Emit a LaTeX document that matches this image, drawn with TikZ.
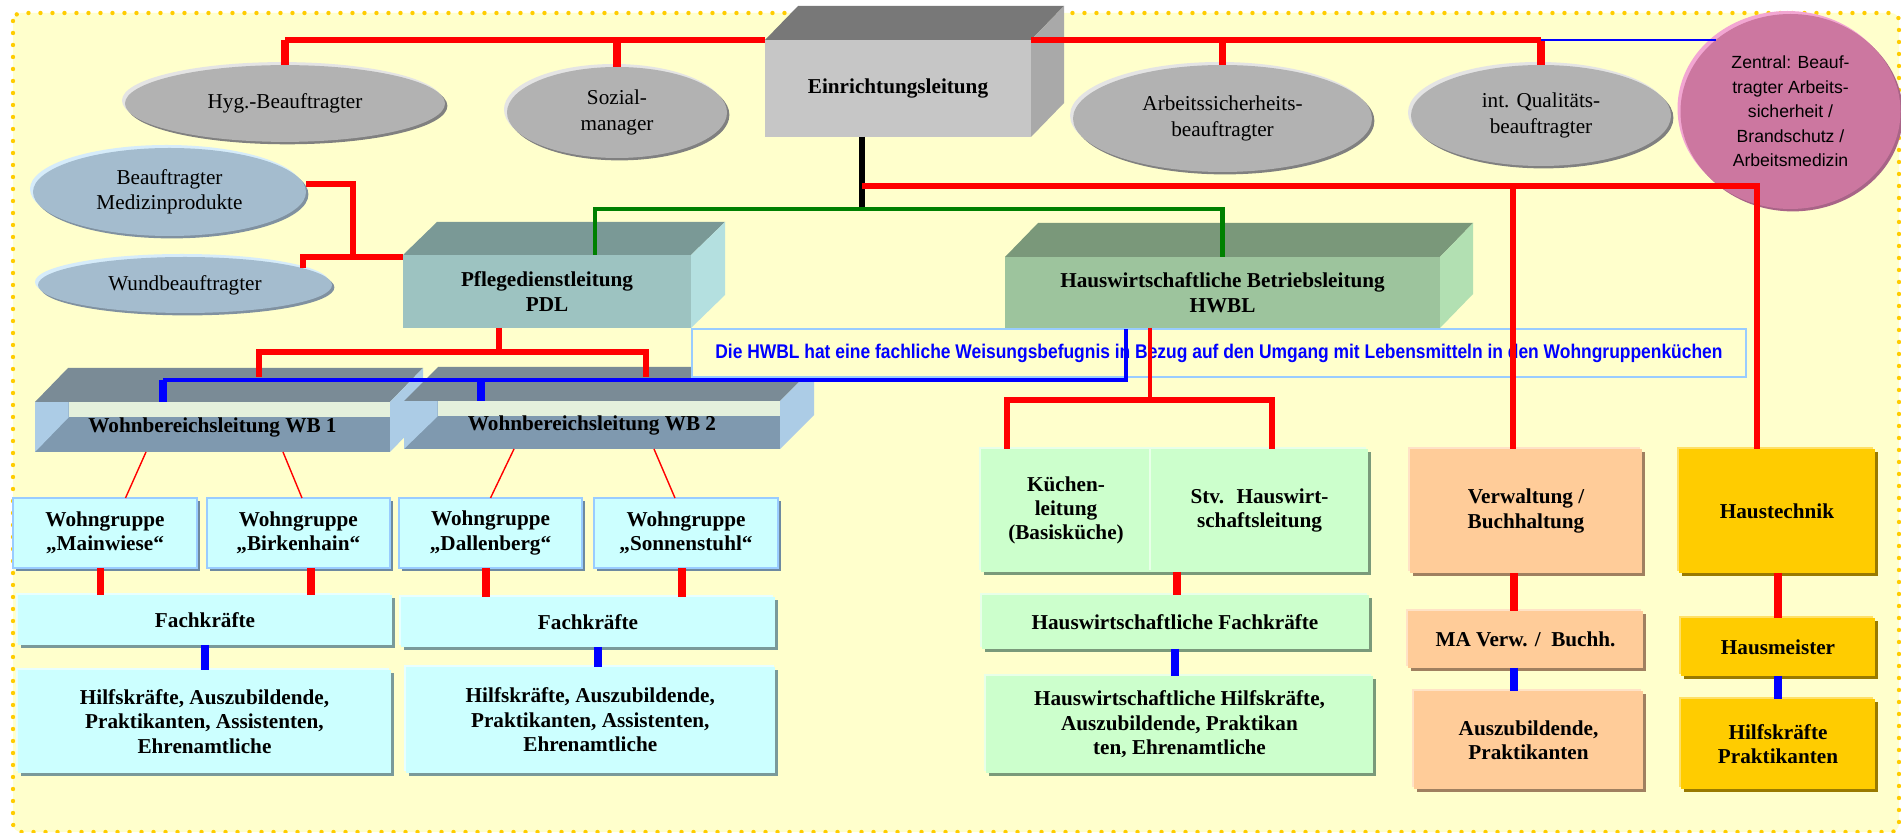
\documentclass[tikz,border=0pt]{standalone}
\usepackage{fontspec}
\setmainfont{Liberation Serif}
\newfontfamily\infofont[FakeStretch=0.88]{Liberation Sans}
\newfontfamily\zentralfont{Liberation Sans}
\usetikzlibrary{shapes.geometric,shadows}

\definecolor{bgyellow}{HTML}{FFFFCC}
\definecolor{dotgold}{HTML}{FFCC00}
\definecolor{einrfront}{HTML}{C6C6C6}
\definecolor{einrtop}{HTML}{787878}
\definecolor{einrside}{HTML}{A9A9A9}
\definecolor{pdlfront}{HTML}{9DC3C1}
\definecolor{pdltop}{HTML}{7A9996}
\definecolor{pdlside}{HTML}{B4E0E0}
\definecolor{hwfront}{HTML}{9DC49D}
\definecolor{hwtop}{HTML}{7A987A}
\definecolor{hwside}{HTML}{B2E0B2}
\definecolor{wbtop}{HTML}{7A8B96}
\definecolor{wbdark}{HTML}{7F99AF}
\definecolor{wbband}{HTML}{E4F0DC}
\definecolor{wbpale}{HTML}{ACCCE6}
\definecolor{greyfill}{HTML}{B2B2B2}
\definecolor{greyhi}{HTML}{E4E4E4}
\definecolor{greydark}{HTML}{808080}
\definecolor{bluefill}{HTML}{A4BCCE}
\definecolor{bluehi}{HTML}{D6ECFA}
\definecolor{bluedark}{HTML}{8091A0}
\definecolor{pinkfill}{HTML}{CC77A0}
\definecolor{pinkhi}{HTML}{F2A6D2}
\definecolor{pinkdark}{HTML}{A86487}
\definecolor{cyanfill}{HTML}{CCFFFF}
\definecolor{cyanhi}{HTML}{E8FFFF}
\definecolor{cyandark}{HTML}{7A9A9A}
\definecolor{wgborder}{HTML}{99CCFF}
\definecolor{wgdark}{HTML}{6E8AA0}
\definecolor{greenfill}{HTML}{CCFFCC}
\definecolor{greenhi}{HTML}{E8FFE8}
\definecolor{greendark}{HTML}{7A9A7A}
\definecolor{orangefill}{HTML}{FFCC99}
\definecolor{orangehi}{HTML}{FFE2C6}
\definecolor{orangedark}{HTML}{A08060}
\definecolor{goldfill}{HTML}{FFCC00}
\definecolor{goldhi}{HTML}{FFE066}
\definecolor{golddark}{HTML}{997A00}
\definecolor{linered}{HTML}{FF0000}
\definecolor{linegreen}{HTML}{008000}
\definecolor{lineblue}{HTML}{0000FF}

\tikzset{
  front/.style={rectangle, inner sep=0pt, outer sep=0pt, align=center,
    font=\bfseries\fontsize{10.6}{12.4}\selectfont},
  bx/.style={front, font=\bfseries\fontsize{10.6}{12.2}\selectfont},
  ell/.style={ellipse, inner sep=0pt, outer sep=0pt, align=center,
    font=\fontsize{10.6}{12.6}\selectfont},
  greyell/.style={ell, fill=greyfill,
    general shadow={shadow xshift=-1.5pt, shadow yshift=1.5pt, fill=greyhi},
    general shadow={shadow xshift=1.2pt, shadow yshift=-1.2pt, fill=greydark}},
  blueell/.style={ell, fill=bluefill,
    general shadow={shadow xshift=-1.5pt, shadow yshift=1.5pt, fill=bluehi},
    general shadow={shadow xshift=1.2pt, shadow yshift=-1.2pt, fill=bluedark}},
  pinkell/.style={ell, fill=pinkfill, font=\zentralfont\fontsize{8.8}{12.3}\selectfont,
    general shadow={shadow xshift=-1.5pt, shadow yshift=1.5pt, fill=pinkhi},
    general shadow={shadow xshift=1.2pt, shadow yshift=-1.2pt, fill=pinkdark}},
  shadowbox/.style n args={3}{bx, fill=#1,
    general shadow={shadow xshift=-0.8pt, shadow yshift=0.8pt, fill=#2},
    drop shadow={shadow xshift=1.5pt, shadow yshift=-1.5pt, opacity=1, fill=#3}},
  cyanbox/.style={shadowbox={cyanfill}{cyanhi}{cyandark}},
  wgbox/.style={bx, fill=cyanfill, draw=wgborder, line width=1pt,
    drop shadow={shadow xshift=1.5pt, shadow yshift=-1.5pt, opacity=1, fill=wgdark}},
  greenbox/.style={shadowbox={greenfill}{greenhi}{greendark}},
  orangebox/.style={shadowbox={orangefill}{orangehi}{orangedark}},
  goldbox/.style={shadowbox={goldfill}{goldhi}{golddark}},
  wbfront/.style={front, fill=wbdark, path picture={
      \fill[wbband] ([xshift=16.8pt]path picture bounding box.north west)
        rectangle ([yshift=-7.7pt]path picture bounding box.north east);
      \fill[wbpale] (path picture bounding box.north west) -- ++(16.8pt,0)
        -- ++(0,-7.7pt) -- (path picture bounding box.south west) -- cycle;}},
  infobox/.style={rectangle, draw=wgborder, line width=1pt, fill=bgyellow,
    inner sep=0pt, outer sep=0pt, text=lineblue,
    font=\infofont\bfseries\fontsize{9.9}{11}\selectfont},
  redline/.style={draw=linered, line width=2.8pt},
  redstub/.style={draw=linered, line width=3.7pt},
  redtrunk/.style={draw=linered, line width=3.2pt},
  redmid/.style={draw=linered, line width=2pt},
  redthin/.style={draw=linered, line width=0.7pt},
  greenline/.style={draw=linegreen, line width=2.3pt},
  blackline/.style={draw=black, line width=2.8pt},
  bluethin/.style={draw=lineblue, line width=1pt},
  blueline/.style={draw=lineblue, line width=1.7pt},
  bluestub/.style={draw=lineblue, line width=3.8pt},
  dotborder/.style={draw=dotgold, line width=2.2pt, line cap=round,
    dash pattern=on 0pt off 6pt, rounded corners=4pt}
}

\begin{document}
\begin{tikzpicture}[x=0.5pt, y=-0.5pt]

  % top and side faces of a box, #1 front node, #2/#3 depth, #4 top, #5 side
  \newcommand\cubefaces[5]{%
    \fill[#4] (#1.north west) -- ++(#2,-#3) -- ([shift={(#2,-#3)}]#1.north east)
      -- (#1.north east) -- cycle;
    \fill[#5] (#1.north east) -- ++(#2,-#3) -- ([shift={(#2,-#3)}]#1.south east)
      -- (#1.south east) -- cycle;}

  \useasboundingbox (0,0) rectangle (1901,833);
  \fill[bgyellow, rounded corners=4pt] (13,13) rectangle (1899,832);
  \draw[dotborder] (13,13) rectangle (1899,832);

  % Einrichtungsleitung and staff positions
  \node[front, fill=einrfront, minimum width=133pt, minimum height=48.5pt] (einr) at (898,88.5) {Einrichtungsleitung};
  \cubefaces{einr}{33}{34}{einrtop}{einrside}

  \node[greyell, minimum width=160pt, minimum height=38.4pt] (hyg) at (285,103.5) {Hyg.-Beauftragter};
  \node[greyell, minimum width=110pt, minimum height=45.5pt] (sozial) at (617,112.5) {Sozial-\\manager};
  \node[greyell, minimum width=149.5pt, minimum height=53.5pt] (arbeit) at (1222.5,118.5) {Arbeitssicherheits-\\beauftragter};
  \node[greyell, minimum width=130pt, minimum height=50.5pt] (quali) at (1541,115.5) {int. Qualitäts-\\beauftragter};
  \node[pinkell, minimum width=110pt, minimum height=97.5pt] (zentral) at (1790.5,111.5) {Zentral: Beauf-\\tragter Arbeits-\\sicherheit /\\Brandschutz /\\Arbeitsmedizin};
  \node[blueell, minimum width=136.5pt, minimum height=44pt] (medizin) at (169.5,192) {Beauftragter\\Medizinprodukte};
  \node[blueell, minimum width=147pt, minimum height=28pt] (wund) at (185,285) {Wundbeauftragter};

  \draw[redline] (einr.north west) -- (hyg.north |- einr.north);
  \draw[redstub] (hyg.north) -- (hyg.north |- einr.north);
  \draw[redstub] (sozial.north) -- (sozial.north |- einr.north);
  \draw[redline] (einr.north east) -- (quali.north |- einr.north);
  \draw[redstub] (arbeit.north) -- (arbeit.north |- einr.north);
  \draw[redstub] (quali.north) -- (quali.north |- einr.north);
  \draw[bluethin] (quali.north |- einr.north) -- (zentral.136 |- einr.north);

  % PDL and HWBL
  \node[front, fill=pdlfront, minimum width=144pt, minimum height=36.5pt] (pdl) at (547,291.5) {Pflegedienstleitung\\PDL};
  \cubefaces{pdl}{34}{33}{pdltop}{pdlside}
  \node[front, fill=hwfront, minimum width=217.5pt, minimum height=35.5pt] (hwbl) at (1222.5,292.5) {Hauswirtschaftliche Betriebsleitung\\HWBL};
  \cubefaces{hwbl}{33}{34}{hwtop}{hwside}

  \coordinate (mjoin) at (353,257);
  \draw[redline] ([yshift=4pt]medizin.east) -| (mjoin) -- (mjoin -| pdl.west);
  \draw[redline] (wund.8) |- (mjoin);

  \coordinate (hub) at (862,209);
  \coordinate (trunk) at (862,186);
  \draw[blackline] (einr.south -| hub) -- (hub);
  \draw[greenline] (pdl.north -| 595,0) |- (hub) -| (hwbl.north);

  % Wohnbereiche
  \node[wbfront, minimum width=177.5pt, minimum height=25pt] (wb1) at (212.5,427) {Wohnbereichsleitung WB 1};
  \cubefaces{wb1}{33}{34}{wbtop}{wbpale}
  \node[wbfront, minimum width=188pt, minimum height=24pt] (wb2) at (592,425) {Wohnbereichsleitung WB 2};
  \cubefaces{wb2}{34}{34}{wbtop}{wbpale}

  \coordinate (pjoin) at (499,352);
  \coordinate (wb1red) at (259,377);
  \coordinate (wb2red) at (646,377);
  \draw[redline] (pdl.south -| pjoin) -- (pjoin);
  \draw[redline] (wb1red) |- (pjoin) -| (wb2red);

  \node[infobox, minimum width=527pt, minimum height=24pt] (info) at (1218.9,353) {Die HWBL hat eine fachliche Weisungsbefugnis in Bezug auf den Umgang mit Lebensmitteln in den Wohngruppenküchen};

  \coordinate (bjoin) at (163,380);
  \draw[bluestub] (wb1.north -| bjoin) -- (bjoin);
  \draw[bluestub] (wb2.north -| 481,0) -- (bjoin -| 481,0);
  \draw[blueline] (bjoin) -| (info.north -| 1126,0);

  \node[wgbox, minimum width=92pt, minimum height=35pt] (wgA) at (105,533) {Wohngruppe\\„Mainwiese“};
  \node[wgbox, minimum width=91.7pt, minimum height=35pt] (wgB) at (298.3,533) {Wohngruppe\\„Birkenhain“};
  \node[wgbox, minimum width=91.5pt, minimum height=35pt] (wgC) at (490.5,533) {Wohngruppe\\„Dallenberg“};
  \node[wgbox, minimum width=92pt, minimum height=35pt] (wgD) at (686,533) {Wohngruppe\\„Sonnenstuhl“};

  \draw[redthin] (wb1.south -| 146,0) -- (wgA.north -| 125.5,0);
  \draw[redthin] (wb1.south -| 283,0) -- (wgB.north -| 302,0);
  \draw[redthin] (wb2.south -| 514,0) -- (wgC.north -| 490.5,0);
  \draw[redthin] (wb2.south -| 654,0) -- (wgD.north -| 675,0);

  \node[cyanbox, minimum width=187pt, minimum height=25pt] (fachL) at (205,620) {Fachkräfte};
  \node[cyanbox, minimum width=187pt, minimum height=25pt] (fachR) at (588,622) {Fachkräfte};
  \node[cyanbox, minimum width=186.5pt, minimum height=51.5pt] (hilfL) at (204.5,721.5) {Hilfskräfte, Auszubildende,\\Praktikanten, Assistenten,\\Ehrenamtliche};
  \node[cyanbox, minimum width=184.8pt, minimum height=53pt] (hilfR) at (590.3,720) {Hilfskräfte, Auszubildende,\\Praktikanten, Assistenten,\\Ehrenamtliche};

  \draw[redstub] (wgA.south -| 100.5,0) -- (fachL.north -| 100.5,0);
  \draw[redstub] (wgB.south -| 311,0) -- (fachL.north -| 311,0);
  \draw[redstub] (wgC.south -| 486,0) -- (fachR.north -| 486,0);
  \draw[redstub] (wgD.south -| 682,0) -- (fachR.north -| 682,0);
  \draw[bluestub] (fachL.south) -- (hilfL.north -| fachL.south);
  \draw[bluestub] (fachR.south -| 598,0) -- (hilfR.north -| 598,0);

  % Hauswirtschaft
  \node[greenbox, minimum width=85pt, minimum height=61.5pt] (kueche) at (1066,510.5) {Küchen-\\leitung\\(Basisküche)};
  \node[greenbox, minimum width=108.5pt, minimum height=61.5pt] (stv) at (1259.5,510.5) {Stv.~ Hauswirt-\\schaftsleitung};
  \node[greenbox, minimum width=193.5pt, minimum height=27pt] (hwfach) at (1175,622) {Hauswirtschaftliche Fachkräfte};
  \node[greenbox, minimum width=193.5pt, minimum height=48.5pt] (hwhilf) at (1179.5,724.5) {Hauswirtschaftliche Hilfskräfte,\\Auszubildende, Praktikan\\ten, Ehrenamtliche};

  \coordinate (kjoin) at (1149.5,400);
  \draw[redmid] (hwbl.south -| kjoin) -- (kjoin);
  \draw[redline] (kueche.north -| 1007,0) |- (kjoin) -| (stv.north -| 1272,0);
  \draw[redstub] (stv.south -| 1177,0) -- (hwfach.north -| 1177,0);
  \draw[bluestub] (hwfach.south) -- (hwhilf.north -| hwfach.south);

  % Verwaltung and Haustechnik
  \node[orangebox, minimum width=116pt, minimum height=62pt] (verw) at (1526,511) {Verwaltung /\\Buchhaltung};
  \node[orangebox, minimum width=117.5pt, minimum height=28.5pt] (maverw) at (1525.5,639.5) {MA Verw. /~ Buchh.};
  \node[orangebox, minimum width=114.5pt, minimum height=49pt] (azubi) at (1528.5,740) {Auszubildende,\\Praktikanten};
  \node[goldbox, minimum width=98pt, minimum height=62pt] (haustech) at (1777,511) {Haustechnik};
  \node[goldbox, minimum width=97pt, minimum height=29pt] (hausm) at (1778,647) {Hausmeister};
  \node[goldbox, minimum width=97pt, minimum height=45pt] (hilfhaus) at (1778,744) {Hilfskräfte\\Praktikanten};

  \draw[redtrunk] (trunk) -| (haustech.north -| 1757,0);
  \draw[redline] (trunk -| 1513,0) -- (verw.north -| 1513,0);
  \draw[redstub] (verw.south -| 1514,0) -- (maverw.north -| 1514,0);
  \draw[bluestub] (maverw.south -| 1514,0) -- (azubi.north -| 1514,0);
  \draw[redstub] (haustech.south -| hausm.north) -- (hausm.north);
  \draw[bluestub] (hausm.south) -- (hilfhaus.north);

\end{tikzpicture}
\end{document}
